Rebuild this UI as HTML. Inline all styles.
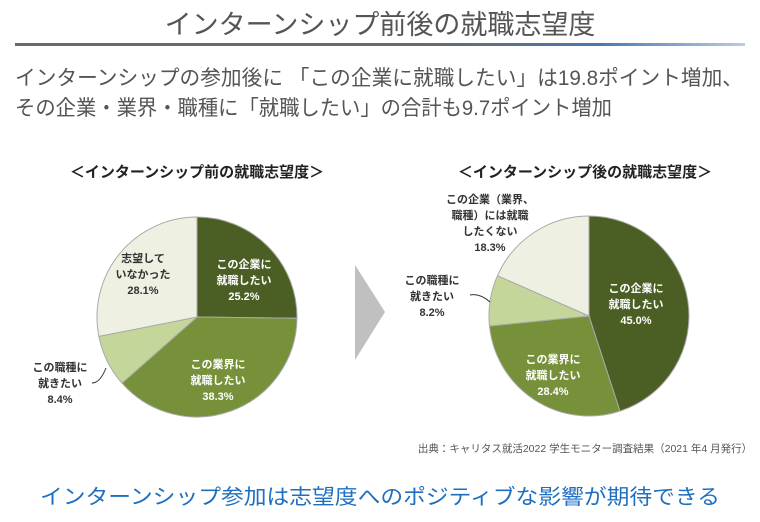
<!DOCTYPE html>
<html><head><meta charset="utf-8"><style>
body{margin:0;width:760px;height:517px;background:#fff;overflow:hidden;font-family:"Liberation Sans","Noto Sans CJK JP",sans-serif;}
svg text{font-family:"Liberation Sans","Noto Sans CJK JP",sans-serif;}
</style></head><body>
<svg width="760" height="517" viewBox="0 0 760 517">
<defs><linearGradient id="g" x1="0" x2="1"><stop offset="0" stop-color="#6a6a6a"/><stop offset="0.55" stop-color="#6a6a6a"/><stop offset="0.8" stop-color="#4a78b0"/><stop offset="1" stop-color="#b8cce4"/></linearGradient></defs>
<text x="380" y="34" text-anchor="middle" font-size="27" fill="#555">インターンシップ前後の就職志望度</text>
<rect x="15" y="43" width="730" height="3" fill="url(#g)"/>
<text x="15" y="85" font-size="21" fill="#555" textLength="728" lengthAdjust="spacingAndGlyphs">インターンシップの参加後に 「この企業に就職したい」は19.8ポイント増加、</text>
<text x="15" y="115" font-size="21" fill="#555" textLength="597" lengthAdjust="spacingAndGlyphs">その企業・業界・職種に「就職したい」の合計も9.7ポイント増加</text>

<text x="197" y="177" text-anchor="middle" font-size="15" font-weight="bold" fill="#222">＜インターンシップ前の就職志望度＞</text>
<g stroke="#aaa" stroke-width="1">
<path d="M197,317 L197,217 A100,100 0 0 1 297,318.3 Z" fill="#4b5f24"/>
<path d="M197,317 L297,318.3 A100,100 0 0 1 122,383.1 Z" fill="#76913a"/>
<path d="M197,317 L122,383.1 A100,100 0 0 1 98.9,336.4 Z" fill="#c5d69b"/>
<path d="M197,317 L98.9,336.4 A100,100 0 0 1 197,217 Z" fill="#eef0e2"/>
</g>
<g font-size="11" text-anchor="middle" font-weight="bold">
<text x="244" y="268" fill="#fff">この企業に</text><text x="244" y="284" fill="#fff">就職したい</text><text x="244" y="300" fill="#fff">25.2%</text>
<text x="218" y="368" fill="#fff">この業界に</text><text x="218" y="384" fill="#fff">就職したい</text><text x="218" y="400" fill="#fff">38.3%</text>
<text x="143" y="262" fill="#333">志望して</text><text x="143" y="278" fill="#333">いなかった</text><text x="143" y="294" fill="#333">28.1%</text>
<text x="60" y="371" fill="#333">この職種に</text><text x="60" y="387" fill="#333">就きたい</text><text x="60" y="403" fill="#333">8.4%</text>
</g>
<path d="M92,383 Q100,383 106,368" stroke="#333" fill="none"/>

<polygon points="355,265 385,312 355,360" fill="#c0c0c0"/>

<text x="585" y="177" text-anchor="middle" font-size="15" font-weight="bold" fill="#222">＜インターンシップ後の就職志望度＞</text>
<g stroke="#aaa" stroke-width="1">
<path d="M589,316 L589,216 A100,100 0 0 1 619.9,411.1 Z" fill="#4b5f24"/>
<path d="M589,316 L619.9,411.1 A100,100 0 0 1 489.5,326 Z" fill="#76913a"/>
<path d="M589,316 L489.5,326 A100,100 0 0 1 497.5,275.7 Z" fill="#c5d69b"/>
<path d="M589,316 L497.5,275.7 A100,100 0 0 1 589,216 Z" fill="#eef0e2"/>
</g>
<g font-size="11" text-anchor="middle" font-weight="bold">
<text x="636" y="292" fill="#fff">この企業に</text><text x="636" y="308" fill="#fff">就職したい</text><text x="636" y="324" fill="#fff">45.0%</text>
<text x="553" y="363" fill="#fff">この業界に</text><text x="553" y="379" fill="#fff">就職したい</text><text x="553" y="395" fill="#fff">28.4%</text>
<text x="490" y="203" fill="#333">この企業（業界、</text><text x="490" y="219" fill="#333">職種）には就職</text><text x="490" y="235" fill="#333">したくない</text><text x="490" y="251" fill="#333">18.3%</text>
<text x="432" y="284" fill="#333">この職種に</text><text x="432" y="300" fill="#333">就きたい</text><text x="432" y="316" fill="#333">8.2%</text>
</g>
<path d="M470,295 Q480,293 490,302" stroke="#333" fill="none"/>
<text x="585" y="452" text-anchor="middle" font-size="10.5" fill="#555">出典：キャリタス就活2022 学生モニター調査結果（2021 年4 月発行）</text>

<text x="40" y="504" font-size="21" fill="#1f6fc0" textLength="680" lengthAdjust="spacingAndGlyphs">インターンシップ参加は志望度へのポジティブな影響が期待できる</text>
</svg>
</body></html>
